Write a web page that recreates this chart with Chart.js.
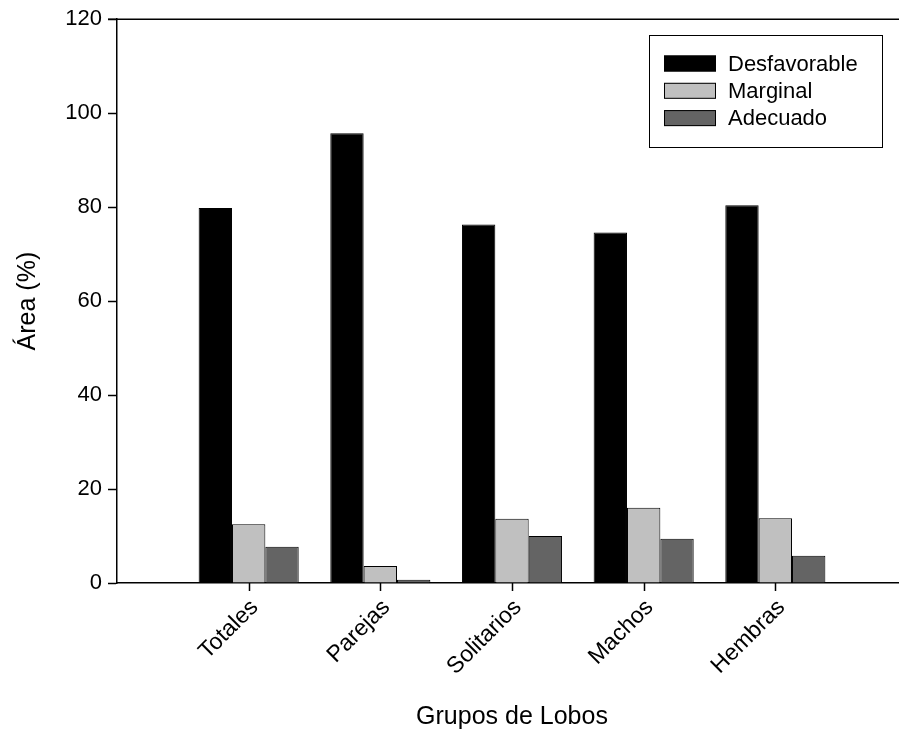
<!DOCTYPE html>
<html>
<head>
<meta charset="utf-8">
<script src="https://cdn.jsdelivr.net/npm/chart.js@4/dist/chart.umd.min.js"></script>
<style>
  html, body { margin: 0; padding: 0; background: #fff; overflow: hidden; }
  #wrap { position: relative; width: 910px; height: 733px; }
</style>
</head>
<body>
<div id="wrap"><canvas id="c"></canvas></div>
<script>
// Wolf groups (empty slots keep the first group one step in from the axis)
const categories = ['', 'Totales', 'Parejas', 'Solitarios', 'Machos', 'Hembras', ''];
const seriesNames = ['Desfavorable', 'Marginal', 'Adecuado'];
const desfavorable = [null, 79.8, 95.7, 76.3, 74.6, 80.4, null];
const marginal     = [null, 12.5, 3.6, 13.7, 16.0, 13.8, null];
const adecuado     = [null, 7.7, 0.7, 10.0, 9.4, 5.8, null];
const yTicks = [0, 20, 40, 60, 80, 100, 120];
const seriesColors = ['#000000', '#c0c0c0', '#646464'];

const FONT = '"Liberation Sans", Arial, sans-serif';

// Top frame line, category tick marks and the boxed legend
const framePlugin = {
  id: 'frame',
  afterDraw(chart) {
    const { ctx, chartArea: a } = chart;
    const xs = chart.scales.x;
    ctx.save();
    ctx.strokeStyle = '#000';
    ctx.lineWidth = 1.5;
    ctx.beginPath();
    ctx.moveTo(a.left - 9, a.top);
    ctx.lineTo(a.right, a.top);
    xs.ticks.forEach((t, i) => {
      const px = Math.round(xs.getPixelForTick(i)) + 0.5;
      ctx.moveTo(px, a.bottom);
      ctx.lineTo(px, a.bottom + 8);
    });
    ctx.stroke();

    // legend box
    const bx = 649, by = 35, bw = 233, bh = 112;
    ctx.lineWidth = 1;
    ctx.strokeRect(bx + 0.5, by + 0.5, bw, bh);
    ctx.font = '22px ' + FONT;
    ctx.textBaseline = 'middle';
    ctx.textAlign = 'left';
    chart.data.datasets.forEach((ds, i) => {
      const cy = 63.5 + i * 27.3;
      ctx.fillStyle = ds.backgroundColor;
      ctx.fillRect(664, cy - 8, 52, 16);
      ctx.strokeStyle = '#000';
      ctx.strokeRect(664.5, cy - 7.5, 51, 15);
      ctx.fillStyle = '#000';
      ctx.fillText(ds.label, 728, cy + 1);
    });
    ctx.restore();
  }
};

const datasets = [desfavorable, marginal, adecuado].map((vals, i) => ({
  label: seriesNames[i],
  data: vals,
  backgroundColor: seriesColors[i],
  borderColor: '#000',
  borderWidth: 1,
  categoryPercentage: 0.76,
  barPercentage: 1.0
}));

new Chart(document.getElementById('c'), {
  type: 'bar',
  data: { labels: categories, datasets },
  options: {
    responsive: true,
    maintainAspectRatio: false,
    animation: false,
    layout: { padding: { top: 17, right: 3, left: 0, bottom: 0 } },
    plugins: { legend: { display: false }, tooltip: { enabled: false } },
    scales: {
      x: {
        offset: false,
        afterFit(scale) { scale.height = 150; },
        afterBuildTicks(scale) {
          scale.ticks = scale.ticks.filter(t => categories[t.value] !== '');
        },
        grid: { offset: false, drawOnChartArea: false, drawTicks: false, tickLength: 8 },
        border: { color: '#000', width: 1.5 },
        ticks: {
          autoSkip: false, minRotation: 45, maxRotation: 45,
          color: '#000', padding: 11, labelOffset: 6,
          font: { family: FONT, size: 23 }
        },
        title: {
          display: true, text: 'Grupos de Lobos', color: '#000',
          font: { family: FONT, size: 25 }, padding: { bottom: 1, top: 0 }
        }
      },
      y: {
        min: 0, max: 120,
        afterFit(scale) { scale.width = 117; },
        afterBuildTicks(scale) { scale.ticks = yTicks.map(v => ({ value: v })); },
        grid: { drawOnChartArea: false, tickLength: 9, tickColor: '#000', tickWidth: 1.5 },
        border: { color: '#000', width: 1.5 },
        ticks: { color: '#000', padding: 6, font: { family: FONT, size: 22 } },
        title: {
          display: true, text: 'Área (%)', color: '#000',
          font: { family: FONT, size: 25 }, padding: { top: 13, bottom: 0 }
        }
      }
    }
  },
  plugins: [framePlugin]
});
</script>
</body>
</html>
